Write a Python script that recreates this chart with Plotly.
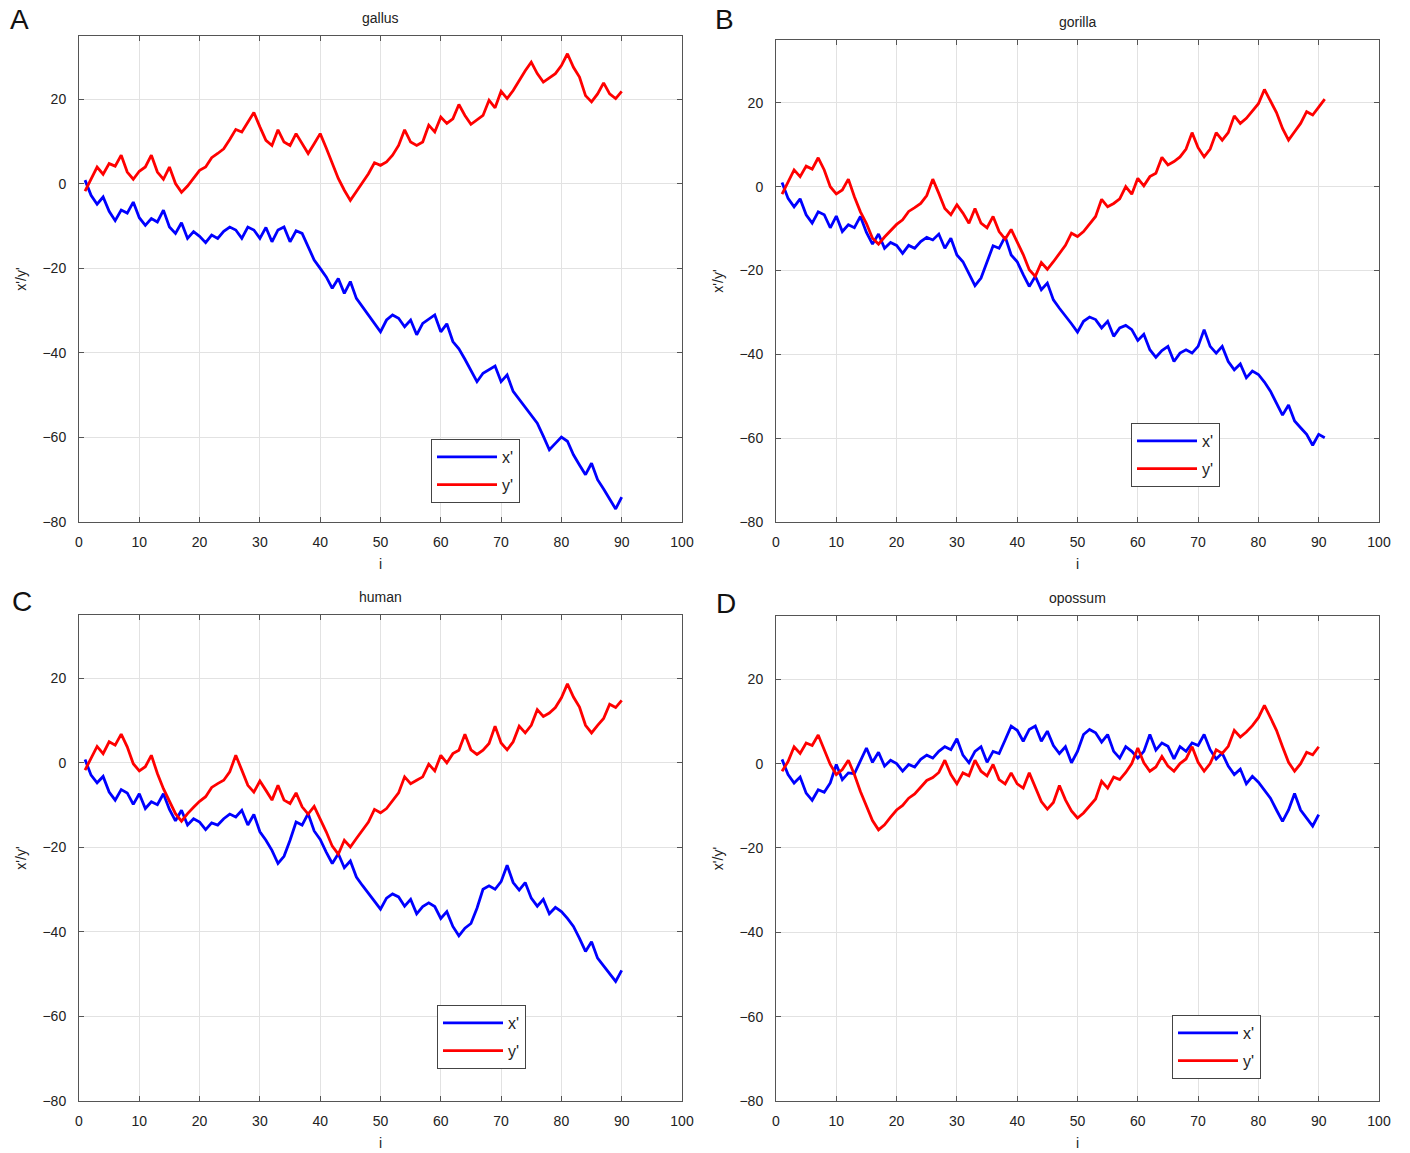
import plotly.graph_objects as go

W, H = 1410, 1153

# ---------------- data ----------------
i90 = list(range(1, 91))
i91 = list(range(1, 92))

gallus_x = [0.9, -2.7, -4.8, -3.1, -6.5, -8.7, -6.2, -6.9, -4.3, -8.0,
            -9.8, -8.2, -9.0, -6.2, -10.2, -11.7, -9.2, -12.9, -11.3, -12.4,
            -13.9, -12.1, -12.9, -11.2, -10.2, -10.9, -12.9, -10.2, -10.9, -12.9,
            -10.3, -13.7, -10.9, -10.2, -13.7, -11.1, -11.7, -14.9, -18.0, -20.0,
            -22.0, -24.7, -22.4, -25.9, -23.1, -27.1, -29.1, -31.1, -33.1, -35.0,
            -32.2, -31.0, -31.8, -33.8, -32.2, -35.7, -33.0, -32.0, -31.0, -35.0,
            -33.1, -37.3, -39.0, -41.5, -44.0, -46.8, -44.8, -44.0, -43.1, -46.8,
            -45.2, -49.1, -51.0, -52.9, -54.8, -56.6, -59.7, -62.9, -61.4, -59.9,
            -60.9, -64.1, -66.5, -68.8, -66.1, -70.0, -72.2, -74.5, -76.9, -74.1]
gallus_y = [-1.7, 1.2, 4.0, 2.3, 4.8, 4.2, 6.8, 2.8, 1.1, 3.0,
            4.0, 6.8, 2.8, 1.1, 4.0, 0.1, -2.0, -0.5, 1.5, 3.2,
            4.0, 6.2, 7.2, 8.3, 10.5, 12.9, 12.3, 14.5, 16.9, 13.5,
            10.3, 9.1, 12.8, 9.9, 9.1, 11.9, 9.5, 7.2, 9.5, 11.9,
            8.5, 4.8, 1.3, -1.5, -3.9, -1.8, 0.3, 2.4, 5.0, 4.4,
            5.2, 6.8, 9.1, 12.8, 9.9, 9.1, 9.9, 13.9, 12.3, 15.8,
            14.3, 15.4, 18.8, 16.2, 14.1, 15.2, 16.2, 19.8, 18.0, 21.9,
            20.2, 22.1, 24.6, 26.8, 28.8, 26.1, 24.1, 25.0, 26.1, 28.0,
            30.8, 27.6, 25.3, 20.9, 19.4, 21.3, 23.9, 21.3, 20.2, 21.9]

gorilla_x = [1.0, -2.8, -4.8, -2.9, -6.7, -8.7, -6.0, -6.7, -9.8, -7.0,
             -10.7, -9.1, -9.8, -7.1, -10.9, -13.7, -11.3, -14.7, -13.3, -14.0,
             -15.9, -14.0, -14.7, -13.1, -12.1, -12.7, -11.3, -14.7, -12.3, -16.3,
             -17.9, -20.6, -23.6, -21.8, -17.9, -14.1, -14.7, -11.9, -16.3, -17.9,
             -21.0, -23.8, -21.4, -24.6, -23.0, -27.0, -29.0, -30.8, -32.7, -34.7,
             -32.1, -31.1, -31.7, -33.7, -32.1, -35.7, -33.7, -33.1, -34.1, -36.7,
             -35.2, -38.9, -40.7, -39.1, -38.1, -41.7, -39.7, -38.9, -39.7, -38.1,
             -34.1, -38.1, -39.7, -38.1, -41.7, -43.7, -42.3, -45.6, -44.0, -44.8,
             -46.6, -48.8, -51.6, -54.5, -52.1, -55.9, -57.5, -59.1, -61.7, -59.1,
             -59.9]
gorilla_y = [-1.8, 1.0, 4.0, 2.4, 4.9, 4.2, 6.9, 4.0, 0.0, -1.7,
             -0.8, 1.8, -2.4, -6.0, -8.8, -12.3, -13.7, -12.0, -10.5, -9.0,
             -7.9, -5.9, -5.0, -4.0, -2.1, 1.8, -1.6, -5.2, -6.7, -4.3,
             -6.3, -8.7, -5.2, -8.7, -9.8, -7.1, -10.7, -12.5, -10.2, -13.1,
             -16.2, -19.8, -21.4, -18.1, -19.7, -17.9, -15.9, -14.0, -11.1, -11.9,
             -10.7, -9.0, -7.1, -3.0, -4.8, -4.0, -2.9, 0.0, -1.8, 2.0,
             0.2, 2.4, 3.2, 7.0, 5.2, 6.0, 7.1, 9.0, 12.9, 9.3,
             7.1, 9.0, 12.9, 11.1, 12.9, 16.9, 15.1, 16.3, 18.0, 19.8,
             23.2, 20.4, 17.7, 13.9, 11.1, 13.1, 15.1, 17.9, 17.1, 19.0,
             20.9]

human_x = [0.8, -2.9, -4.7, -3.2, -6.9, -8.8, -6.3, -7.1, -9.8, -7.3,
           -10.8, -9.2, -9.9, -7.3, -11.0, -13.7, -11.2, -14.7, -13.2, -14.0,
           -15.8, -14.2, -14.7, -13.2, -12.1, -12.8, -11.2, -14.7, -12.2, -16.3,
           -18.3, -20.7, -23.8, -22.1, -18.3, -14.0, -14.7, -12.0, -16.1, -18.1,
           -21.1, -23.8, -21.5, -24.8, -23.2, -27.0, -29.0, -30.9, -32.7, -34.6,
           -32.0, -31.0, -31.7, -33.9, -32.3, -35.7, -34.0, -33.1, -34.0, -36.8,
           -35.2, -38.7, -40.9, -39.1, -38.0, -34.4, -29.9, -29.1, -29.9, -28.1,
           -24.2, -28.3, -30.1, -28.3, -32.0, -33.9, -32.3, -35.7, -34.2, -35.2,
           -36.8, -38.7, -41.5, -44.6, -42.3, -46.2, -48.0, -49.8, -51.7, -49.1]
human_y = [-1.7, 1.0, 3.9, 2.2, 5.0, 4.2, 6.8, 3.8, -0.2, -1.9,
           -0.9, 1.8, -2.5, -6.1, -9.0, -12.0, -13.8, -12.0, -10.5, -9.1,
           -8.0, -5.8, -4.9, -4.1, -2.1, 1.8, -1.7, -5.3, -6.9, -4.3,
           -6.5, -8.8, -5.3, -8.8, -9.6, -7.1, -10.4, -12.1, -10.3, -13.2,
           -16.3, -19.7, -21.6, -18.3, -19.9, -17.9, -16.0, -14.0, -11.0, -11.8,
           -10.8, -8.9, -7.1, -3.3, -4.9, -4.1, -3.3, -0.3, -1.9, 1.8,
           0.0, 2.2, 3.0, 6.8, 3.1, 2.0, 3.0, 4.6, 8.7, 4.7,
           3.1, 5.0, 8.7, 7.1, 8.9, 12.6, 11.0, 11.8, 13.1, 15.4,
           18.7, 15.6, 13.2, 8.9, 7.1, 8.9, 10.5, 13.9, 13.1, 14.8]

opossum_x = [1.0, -2.6, -4.6, -3.2, -7.0, -8.7, -6.2, -6.8, -4.6, -0.2,
             -3.8, -2.2, -2.4, 0.6, 3.7, 0.3, 2.7, -0.6, 0.8, 0.0,
             -1.8, -0.2, -0.8, 1.0, 2.0, 1.3, 2.9, 4.0, 3.3, 5.9,
             2.0, 0.2, 2.9, 4.0, 0.3, 2.9, 2.4, 5.6, 8.9, 7.9,
             5.3, 8.1, 8.9, 5.3, 7.7, 4.3, 2.4, 4.0, 0.2, 2.9,
             6.9, 8.1, 7.3, 5.1, 6.9, 2.9, 1.3, 4.0, 2.9, 1.3,
             2.9, 6.9, 3.2, 4.9, 4.1, 1.1, 4.0, 2.9, 4.9, 4.3,
             6.9, 3.3, 1.1, 2.5, -0.6, -2.6, -1.3, -4.8, -3.0, -4.4,
             -6.2, -8.2, -11.0, -13.7, -11.0, -7.1, -11.0, -12.9, -14.8, -12.1]
opossum_y = [-1.8, 0.5, 4.0, 2.4, 4.9, 4.3, 6.8, 3.3, -0.2, -2.6,
             -1.4, 0.8, -2.6, -6.6, -10.2, -13.5, -15.7, -14.5, -12.7, -11.0,
             -9.9, -8.2, -7.2, -5.5, -4.0, -3.3, -2.1, 0.8, -2.6, -4.8,
             -2.2, -2.9, 0.8, -1.8, -2.9, -0.2, -3.8, -4.8, -2.2, -4.8,
             -5.8, -2.2, -5.8, -9.0, -10.8, -9.2, -5.2, -8.6, -11.2, -12.9,
             -11.7, -10.0, -8.4, -4.2, -5.8, -3.2, -3.8, -2.1, 0.0, 3.7,
             0.2, -1.8, -0.8, 1.7, -0.6, -1.8, 0.0, 1.1, 4.0, 0.3,
             -1.8, 0.0, 3.3, 2.4, 4.1, 7.9, 6.3, 7.5, 9.0, 10.9,
             13.8, 10.9, 7.9, 4.0, 0.3, -1.8, 0.0, 2.7, 2.1, 4.0]

panels = [
    ("gallus", "A", i90, gallus_x, gallus_y),
    ("gorilla", "B", i91, gorilla_x, gorilla_y),
    ("human", "C", i90, human_x, human_y),
    ("opossum", "D", i90, opossum_x, opossum_y),
]
series_names = ["x'", "y'"]
series_colors = ["#0000ff", "#ff0000"]

# ---------------- layout geometry (pixels) ----------------
boxes = [(79, 682, 36, 522), (776, 1379, 40, 522),
         (79, 682, 615, 1101), (776, 1379, 616, 1101)]
legend_pos = [(431, 439), (1131, 423), (437, 1005), (1172, 1015)]
letter_pos = [(19, 20), (724, 20), (22, 601), (726, 603)]

FONT = "Liberation Sans, Arial, sans-serif"

fig = go.Figure()
layout = dict(width=W, height=H, margin=dict(l=0, r=0, t=0, b=0, pad=0, autoexpand=False),
              paper_bgcolor="white", plot_bgcolor="white",
              font=dict(family=FONT, size=14, color="#222222"),
              annotations=[], showlegend=True)

for k, (title, letter, idx, xs, ys) in enumerate(panels):
    n = k + 1
    xa = "x" if n == 1 else f"x{n}"
    ya = "y" if n == 1 else f"y{n}"
    leg = "legend" if n == 1 else f"legend{n}"
    for vals, name, col in zip([xs, ys], series_names, series_colors):
        fig.add_trace(go.Scatter(x=idx, y=vals, mode="lines", name=name,
                                 line=dict(color=col, width=2.8),
                                 legendgroup=f"{leg}-{name}",
                                 xaxis=xa, yaxis=ya, legend=leg))
    l, r, t, b = boxes[k]
    axcommon = dict(showline=True, linecolor="#555555", linewidth=1, mirror="ticks",
                    ticks="inside", ticklen=5, tickcolor="#555555",
                    showgrid=True, gridcolor="#e2e2e2", gridwidth=1, zeroline=False,
                    automargin=False,
                    tickfont=dict(family=FONT, size=14, color="#222222"))
    layout["xaxis" if n == 1 else f"xaxis{n}"] = dict(
        axcommon, domain=[l / W, r / W], range=[0, 100], dtick=10, tick0=0,
        ticklabelstandoff=7,
        anchor=ya, title=dict(text="i", standoff=10, font=dict(size=14)))
    layout["yaxis" if n == 1 else f"yaxis{n}"] = dict(
        axcommon, domain=[1 - b / H, 1 - t / H], range=[-80, 35], dtick=20, tick0=0,
        ticklabelstandoff=9,
        anchor=xa, title=dict(text="x'/y'", standoff=12, font=dict(size=14)))
    lx, ly = legend_pos[k]
    layout[leg] = dict(x=lx / W, y=1 - ly / H, xanchor="left", yanchor="top",
                       bordercolor="#444444", borderwidth=1, bgcolor="white",
                       font=dict(family=FONT, size=16, color="#222222"),
                       entrywidth=60, entrywidthmode="pixels",
                       itemwidth=60, tracegroupgap=4)
    layout["annotations"].append(dict(
        text=title, xref="paper", yref="paper", x=(l + r) / 2 / W, y=1 - (t - 18) / H,
        xanchor="center", yanchor="middle", showarrow=False,
        font=dict(family=FONT, size=14, color="#222222")))
    px, py = letter_pos[k]
    layout["annotations"].append(dict(
        text=letter, xref="paper", yref="paper", x=px / W, y=1 - py / H,
        xanchor="center", yanchor="middle", showarrow=False,
        font=dict(family=FONT, size=28, color="#111111")))

fig.update_layout(**layout)
fig.write_html("out.html")
